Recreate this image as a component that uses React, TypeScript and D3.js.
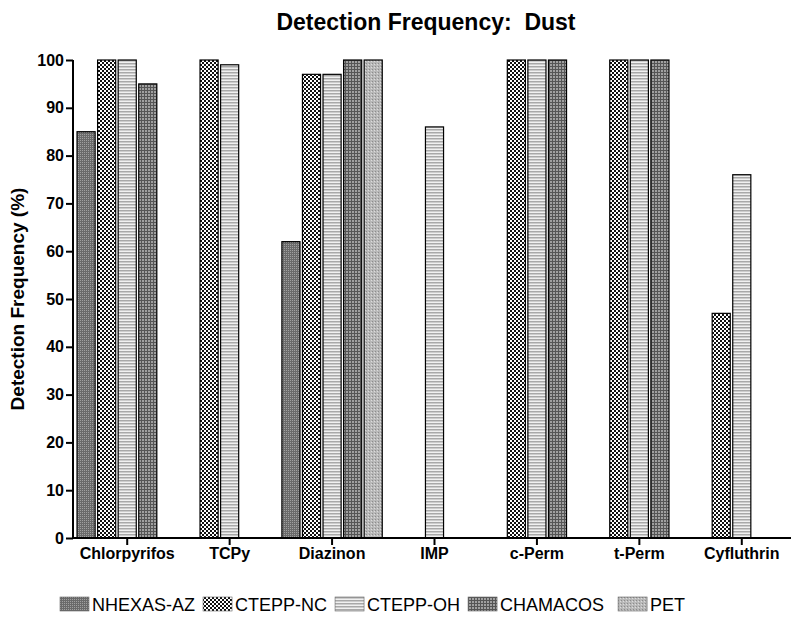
import { useEffect, useRef } from 'react'
import * as d3 from 'd3'

const categories = ['Chlorpyrifos', 'TCPy', 'Diazinon', 'IMP', 'c-Perm', 't-Perm', 'Cyfluthrin']
const studies = ['NHEXAS-AZ', 'CTEPP-NC', 'CTEPP-OH', 'CHAMACOS', 'PET']
// null = not measured
const nhexasAz = [85, null, 62, null, null, null, null]
const cteppNc = [100, 100, 97, null, 100, 100, 47]
const cteppOh = [100, 99, 97, 86, 100, 100, 76]
const chamacos = [95, null, 100, null, 100, 100, null]
const pet = [null, null, 100, null, null, null, null]
const yTicks = [0, 10, 20, 30, 40, 50, 60, 70, 80, 90, 100]

const seriesValues = [nhexasAz, cteppNc, cteppOh, chamacos, pet]

const W = 791
const H = 618
const font = 'Arial, "Liberation Sans", sans-serif'

export default function App() {
  const ref = useRef<SVGSVGElement | null>(null)

  useEffect(() => {
    const svg = d3.select(ref.current)
    svg.selectAll('*').remove()

    // fill patterns imitating the old greyscale hatches
    const defs = svg.append('defs')
    const p0 = defs.append('pattern').attr('id', 'pat0').attr('width', 2).attr('height', 2).attr('patternUnits', 'userSpaceOnUse')
    p0.append('rect').attr('width', 2).attr('height', 2).attr('fill', '#6a6a6a')
    p0.append('rect').attr('width', 1).attr('height', 1).attr('fill', '#a0a0a0')

    const p1 = defs.append('pattern').attr('id', 'pat1').attr('width', 4).attr('height', 4).attr('patternUnits', 'userSpaceOnUse')
    p1.append('rect').attr('width', 4).attr('height', 4).attr('fill', '#fff')
    p1.append('rect').attr('width', 2).attr('height', 2).attr('fill', '#111')
    p1.append('rect').attr('x', 2).attr('y', 2).attr('width', 2).attr('height', 2).attr('fill', '#111')

    const p2 = defs.append('pattern').attr('id', 'pat2').attr('width', 3).attr('height', 3).attr('patternUnits', 'userSpaceOnUse')
    p2.append('rect').attr('width', 3).attr('height', 3).attr('fill', '#f0f0f0')
    p2.append('rect').attr('width', 3).attr('height', 1.5).attr('fill', '#a8a8a8')

    const p3 = defs.append('pattern').attr('id', 'pat3').attr('width', 3).attr('height', 3).attr('patternUnits', 'userSpaceOnUse')
    p3.append('rect').attr('width', 3).attr('height', 3).attr('fill', '#a0a0a0')
    p3.append('rect').attr('width', 1).attr('height', 3).attr('fill', '#555')
    p3.append('rect').attr('width', 3).attr('height', 1).attr('fill', '#555')

    const p4 = defs.append('pattern').attr('id', 'pat4').attr('width', 3).attr('height', 3).attr('patternUnits', 'userSpaceOnUse')
    p4.append('rect').attr('width', 3).attr('height', 3).attr('fill', '#b8b8b8')
    p4.append('rect').attr('width', 1).attr('height', 1).attr('fill', '#8c8c8c')
    p4.append('rect').attr('x', 2).attr('y', 1).attr('width', 1).attr('height', 1).attr('fill', '#dcdcdc')

    const x0 = d3.scaleBand().domain(categories).range([76, 793]).paddingInner(0).paddingOuter(0)
    const x1 = d3.scaleBand().domain(studies).range([0, x0.bandwidth()]).paddingInner(0.12).paddingOuter(0.05)
    const y = d3.scaleLinear().domain([0, 100]).range([538, 60])

    const g = svg.append('g')

    seriesValues.forEach((vals, si) => {
      g.append('g')
        .selectAll('rect')
        .data(vals.map((v, i) => ({ v, c: categories[i] })).filter((d) => d.v != null))
        .enter()
        .append('rect')
        .attr('x', (d) => (x0(d.c) as number) + (x1(studies[si]) as number))
        .attr('y', (d) => y(d.v as number))
        .attr('width', x1.bandwidth())
        .attr('height', (d) => y(0) - y(d.v as number))
        .attr('fill', `url(#pat${si})`)
        .attr('stroke', '#000')
        .attr('stroke-width', 1.2)
    })

    // y axis
    const yAxis = g.append('g').attr('transform', 'translate(73,0)')
      .call(d3.axisLeft(y).tickValues(yTicks).tickSize(7).tickPadding(2) as any)
    yAxis.selectAll('.domain').attr('stroke', '#000').attr('stroke-width', 2).attr('d', `M0,${y(100)}V${y(0)}`)
    yAxis.selectAll('.tick line').attr('stroke', '#000').attr('stroke-width', 2)
    yAxis.selectAll('.tick text').attr('fill', '#000').style('font-family', font).style('font-weight', 'bold').style('font-size', '16px')

    // x axis
    const xAxis = g.append('g').attr('transform', 'translate(0,538)')
      .call(d3.axisBottom(x0).tickSize(7).tickPadding(3) as any)
    xAxis.selectAll('.domain').attr('stroke', '#000').attr('stroke-width', 2).attr('d', 'M72,0H791')
    xAxis.selectAll('.tick line').attr('stroke', '#000').attr('stroke-width', 2)
    xAxis.selectAll('.tick text').attr('fill', '#000').style('font-family', font).style('font-weight', 'bold').style('font-size', '16px')

    // title
    svg.append('text')
      .attr('x', 426).attr('y', 30)
      .attr('text-anchor', 'middle')
      .style('font-family', font).style('font-weight', 'bold').style('font-size', '23px')
      .attr('xml:space', 'preserve')
      .text('Detection Frequency:  Dust')

    // y label
    svg.append('text')
      .attr('transform', `translate(24,${y(50)}) rotate(-90)`)
      .attr('text-anchor', 'middle')
      .style('font-family', font).style('font-weight', 'bold').style('font-size', '19px')
      .text('Detection Frequency (%)')

    // legend
    const lg = svg.append('g').attr('transform', 'translate(0,597)')
    let lx = 60
    studies.forEach((s, i) => {
      lg.append('rect')
        .attr('x', lx).attr('y', 0).attr('width', 29).attr('height', 14)
        .attr('fill', `url(#pat${i})`).attr('stroke', '#666').attr('stroke-width', 0.6)
      const t = lg.append('text')
        .attr('x', lx + 32).attr('y', 14)
        .style('font-family', font).style('font-size', '18px')
        .text(s)
      const w = (t.node() as SVGTextElement).getComputedTextLength()
      lx += 32 + w + (i === 3 ? 14 : 8)
    })
  }, [])

  return (
    <svg
      ref={ref}
      width={W}
      height={H}
      style={{ position: 'absolute', left: 0, top: 0, background: '#fff' }}
    />
  )
}
